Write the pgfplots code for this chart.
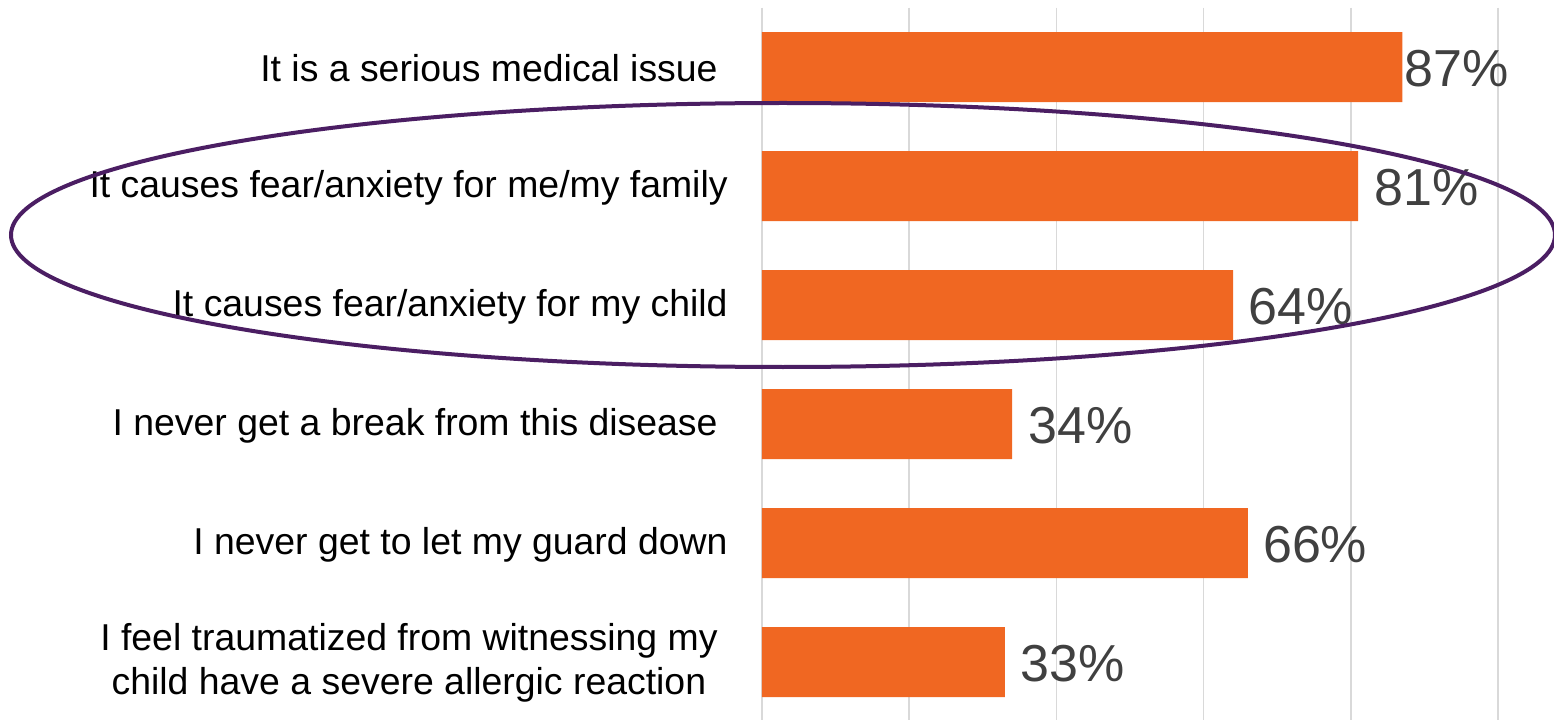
\documentclass[border=0pt]{standalone}
\usepackage{pgfplots}
\pgfplotsset{compat=1.18}
\usepackage{pgfplotstable}
\usepackage{fontspec}
\setmainfont{Liberation Sans}
\definecolor{barorange}{HTML}{F06722}
\definecolor{ellpurple}{HTML}{4B1E63}
\definecolor{valgray}{HTML}{404040}
\definecolor{gridgray}{HTML}{D9D9D9}
\pgfplotstableread{
y val off
0 87 1
1 81 8
2 64 7.5
3 34 8
4 66 7.5
5 33 7.5
}\datatable
\begin{document}
\begin{tikzpicture}
\begin{axis}[
  at={(381pt,-1.25pt)}, anchor=south west,
  scale only axis, width=368pt, height=357pt,
  xmin=0, xmax=100, ymin=-0.5, ymax=5.5, y dir=reverse,
  xtick={0,20,40,60,80,100}, xticklabels={},
  xmajorgrids, major grid style={gridgray, line width=0.8pt},
  axis line style={draw=none},
  major tick length=0pt,
  ytick={0,1,2,3,4,5},
  yticklabels={
    {It is a serious medical issue\kern5pt},
    {It causes fear/anxiety for me/my family},
    {It causes fear/anxiety for my child},
    {I never get a break from this disease\kern5pt},
    {I never get to let my guard down},
    {\raisebox{-2pt}{\begin{tabular}{@{}c@{}}I feel traumatized from witnessing my\\child have a severe allergic reaction\end{tabular}}\kern5pt}
  },
  yticklabel style={font=\fontsize{18.7}{22}\selectfont, text=black, inner sep=0pt, anchor=east, xshift=-17pt, yshift=-0.75pt},
  clip=false,
]
\addplot[xbar, bar width=35pt, bar shift=0pt, fill=barorange, draw=none,
  visualization depends on={\thisrow{off} \as \off},
  nodes near coords={\pgfmathprintnumber[assume math mode=true]{\pgfplotspointmeta}\%},
  every node near coord/.append style={anchor=west, inner sep=0pt, xshift=\off pt, yshift=-1pt, font=\fontsize{26}{30}\selectfont, text=valgray},
  point meta=x
] table[x=val, y=y] {\datatable};
\end{axis}
\draw[ellpurple, line width=2pt] (391.5pt,242pt) ellipse [x radius=386pt, y radius=66pt];
\pgfresetboundingbox
\path (0,0) rectangle (777pt,359.5pt);
\end{tikzpicture}
\end{document}
